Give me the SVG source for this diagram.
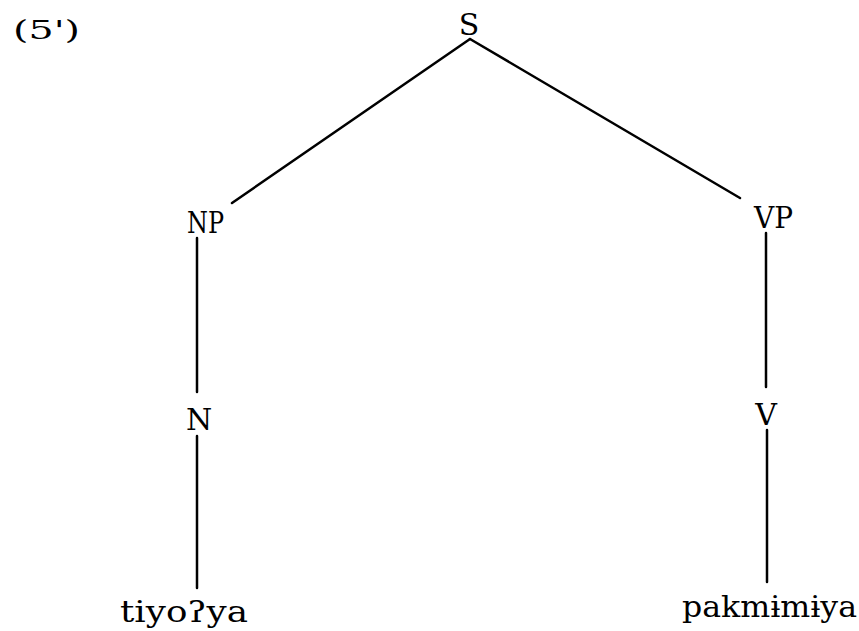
<svg xmlns="http://www.w3.org/2000/svg" width="859" height="631" viewBox="0 0 859 631">
<style>
text{font-family:"DejaVu Serif","Liberation Serif",serif;fill:#000;}
.lab{font-size:30px;}
.conn line{stroke:#000;stroke-width:2.5;stroke-linecap:round;}
</style>
<rect width="859" height="631" fill="#fff"/>
<g id="example-number"><text x="13" y="39" font-size="26" font-family="DejaVu Sans Mono, monospace" textLength="67" lengthAdjust="spacingAndGlyphs">(5')</text></g>
<g class="conn" id="connectors">
<line x1="470" y1="39" x2="232" y2="203"/>
<line x1="470" y1="39" x2="740" y2="198"/>
<line x1="197" y1="238" x2="197" y2="392"/>
<line x1="197" y1="436" x2="197" y2="588"/>
<line x1="766" y1="233" x2="766" y2="387"/>
<line x1="767" y1="430" x2="767" y2="582"/>
</g>
<g id="S"><text class="lab" x="469" y="35" text-anchor="middle">S</text></g>
<g id="NP"><text class="lab" x="187" y="233" textLength="37" lengthAdjust="spacingAndGlyphs">NP</text></g>
<g id="VP"><text class="lab" x="754" y="228" textLength="39" lengthAdjust="spacingAndGlyphs">VP</text></g>
<g id="N"><text class="lab" x="199" y="430" text-anchor="middle">N</text></g>
<g id="V"><text class="lab" x="766" y="425" text-anchor="middle">V</text></g>
<g id="tiyoya"><text class="lab" x="120" y="622" textLength="128" lengthAdjust="spacingAndGlyphs">tiyoʔya</text></g>
<g id="pakmimiya"><text class="lab" x="682" y="617" textLength="175" lengthAdjust="spacingAndGlyphs">pakmɨmɨya</text></g>
</svg>
